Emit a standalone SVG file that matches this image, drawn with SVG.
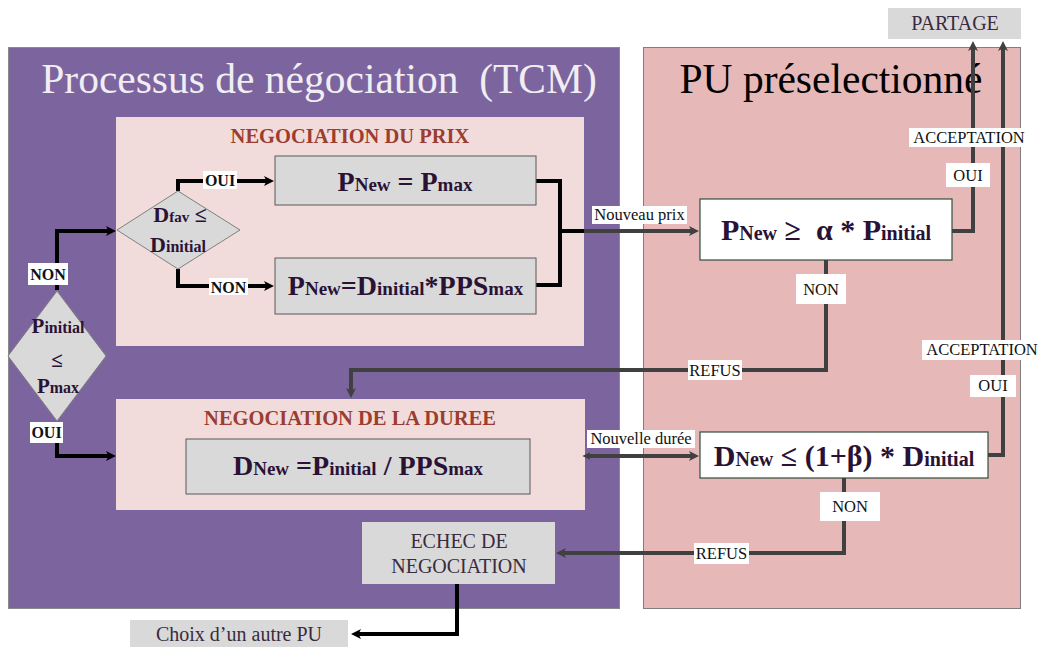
<svg xmlns="http://www.w3.org/2000/svg" width="1044" height="647" viewBox="0 0 1044 647">
<defs>
<style>
.serif{font-family:"Liberation Serif","Times New Roman",serif}
.f{font-family:"Liberation Serif","Times New Roman",serif;font-weight:bold;fill:#2B1235;text-anchor:middle}
.big{font-size:28px}.sm{font-size:19px}
.big2{font-size:30px}.sm2{font-size:20px}
.sec{font-family:"Liberation Serif","Times New Roman",serif;font-weight:bold;font-size:20.5px;fill:#9B3D30;text-anchor:middle}
.lb{font-family:"Liberation Serif","Times New Roman",serif;font-size:16.5px;fill:#111;text-anchor:middle}
.lbb{font-family:"Liberation Serif","Times New Roman",serif;font-size:16px;font-weight:bold;fill:#111;text-anchor:middle}
.lbbg{fill:#fff}
.gbox{fill:#D9D9D9;stroke:#595959;stroke-width:1}
.wbox{fill:#fff;stroke:#2F4F3A;stroke-width:1.2}
.dia{fill:#D9D9D9;stroke:#808080;stroke-width:1}
.cb{fill:none;stroke:#000;stroke-width:4}
.cg{fill:none;stroke:#404040;stroke-width:4}
.plain{font-family:"Liberation Serif","Times New Roman",serif;font-size:20px;fill:#3A2B3F;text-anchor:middle}
</style>
<marker id="ab" viewBox="0 0 10 10" refX="3" refY="5" markerWidth="11" markerHeight="10" markerUnits="userSpaceOnUse" orient="auto">
<path d="M0,0 L10,5 L0,10 L2.5,5 z" fill="#000"/>
</marker>
<marker id="ag" viewBox="0 0 10 10" refX="3" refY="5" markerWidth="11" markerHeight="10" markerUnits="userSpaceOnUse" orient="auto">
<path d="M0,0 L10,5 L0,10 L2.5,5 z" fill="#404040"/>
</marker>
<marker id="ags" viewBox="0 0 10 10" refX="3" refY="5" markerWidth="8" markerHeight="8" markerUnits="userSpaceOnUse" orient="auto-start-reverse">
<path d="M0,0 L10,5 L0,10 L2.5,5 z" fill="#404040"/>
</marker>
</defs>

<g id="panel-tcm">
<rect x="8.5" y="47.5" width="611" height="561" fill="#7C649F" stroke="#8A8A8A"/>
<text class="serif" x="319" y="93" font-size="41.5" fill="#F0EEF2" text-anchor="middle">Processus de négociation&#160; (TCM)</text>
</g>
<g id="panel-pu">
<rect x="643.5" y="47.5" width="377" height="561" fill="#E6B9B8" stroke="#7F7F7F"/>
<text class="serif" x="831" y="93" font-size="41.5" fill="#000" text-anchor="middle">PU préselectionné</text>
</g>
<g id="partage">
<rect x="888" y="8" width="133" height="31" fill="#D9D9D9"/>
<text class="plain" x="955" y="30" fill="#333">PARTAGE</text>
</g>
<g id="negociation-prix">
<rect x="116" y="117" width="468" height="229" fill="#F2DCDB"/>
<text class="sec" x="350" y="143">NEGOCIATION DU PRIX</text>
</g>
<g id="negociation-duree">
<rect x="116" y="399" width="469" height="111" fill="#F2DCDB"/>
<text class="sec" x="350" y="425">NEGOCIATION DE LA DUREE</text>
</g>

<g id="connectors">
<path class="cb" d="M57,290 V231 H109" marker-end="url(#ab)"/>
<path class="cb" d="M57,422 V456 H109" marker-end="url(#ab)"/>
<path class="cb" d="M178,191 V181 H267" marker-end="url(#ab)"/>
<path class="cb" d="M178,269 V286 H267" marker-end="url(#ab)"/>
<path class="cb" d="M536,181 H560 V285 H536"/>
<path class="cb" d="M560,231 H586"/>
<path class="cg" d="M584,231 H692" marker-end="url(#ag)"/>
<path class="cg" d="M952,231 H973 V48" marker-end="url(#ag)"/>
<path class="cg" d="M826,260 V370 H351 V391" marker-end="url(#ag)"/>
<path class="cg" d="M588,456 H692" marker-start="url(#ags)" marker-end="url(#ag)"/>
<path class="cg" d="M988,455 H1003 V48" marker-end="url(#ag)"/>
<path class="cg" d="M844,478 V553 H563" marker-end="url(#ag)"/>
<path class="cb" d="M457,584 V634 H358" marker-end="url(#ab)"/>

<rect class="lbbg" x="28" y="263" width="40" height="22"/>
<text class="lbb" x="48" y="280">NON</text>
<rect class="lbbg" x="30" y="422" width="33" height="21"/>
<text class="lbb" x="46.5" y="438">OUI</text>
<rect class="lbbg" x="203" y="171" width="34" height="18"/>
<text class="lbb" x="220" y="186">OUI</text>
<rect class="lbbg" x="209" y="278" width="39" height="17"/>
<text class="lbb" x="228.5" y="293">NON</text>
<rect class="lbbg" x="592" y="206" width="95" height="18"/>
<text class="lb" x="639.5" y="220" font-size="17">Nouveau prix</text>
<rect class="lbbg" x="909" y="128" width="120" height="19"/>
<text class="lb" x="969" y="143">ACCEPTATION</text>
<rect class="lbbg" x="946" y="163" width="44" height="24"/>
<text class="lb" x="968" y="181">OUI</text>
<rect class="lbbg" x="796" y="274" width="50" height="30"/>
<text class="lb" x="821" y="295">NON</text>
<rect class="lbbg" x="688" y="360" width="54" height="20"/>
<text class="lb" x="715" y="376">REFUS</text>
<rect class="lbbg" x="587" y="430" width="108" height="18"/>
<text class="lb" x="641" y="444" font-size="17">Nouvelle durée</text>
<rect class="lbbg" x="922" y="340" width="120" height="20"/>
<text class="lb" x="982" y="355">ACCEPTATION</text>
<rect class="lbbg" x="970" y="375" width="46" height="22"/>
<text class="lb" x="993" y="391">OUI</text>
<rect class="lbbg" x="820" y="492" width="60" height="29"/>
<text class="lb" x="850" y="512">NON</text>
<rect class="lbbg" x="694" y="543" width="55" height="21"/>
<text class="lb" x="721.5" y="559">REFUS</text>
</g>

<g id="dec-pinitial">
<polygon class="dia" points="57,291 106,356 57,421 8,356"/>
<text class="f" x="58" y="333"><tspan font-size="21">P</tspan><tspan font-size="16">initial</tspan></text>
<text class="f" x="57" y="367" font-size="21">≤</text>
<text class="f" x="58" y="393"><tspan font-size="21">P</tspan><tspan font-size="16">max</tspan></text>
</g>
<g id="dec-dfav">
<polygon class="dia" points="178,191 240,230 178,269 117,230"/>
<text class="f" x="180" y="222"><tspan font-size="22">D</tspan><tspan font-size="15">fav</tspan><tspan font-size="22"> ≤</tspan></text>
<text class="f" x="178" y="252"><tspan font-size="22">D</tspan><tspan font-size="16">initial</tspan></text>
</g>
<g id="pnew-pmax">
<rect class="gbox" x="275" y="156" width="261" height="49"/>
<text class="f" x="405" y="191"><tspan class="big">P</tspan><tspan class="sm">New</tspan><tspan class="big"> = P</tspan><tspan class="sm">max</tspan></text>
</g>
<g id="pnew-dinitial">
<rect class="gbox" x="275" y="258" width="261" height="56"/>
<text class="f" x="405.5" y="295"><tspan class="big">P</tspan><tspan class="sm">New</tspan><tspan class="big">=D</tspan><tspan class="sm">initial</tspan><tspan class="big">*PPS</tspan><tspan class="sm">max</tspan></text>
</g>
<g id="dnew-calc">
<rect class="gbox" x="186" y="439" width="344" height="55"/>
<text class="f" x="358" y="475"><tspan class="big">D</tspan><tspan class="sm">New</tspan><tspan class="big"> =P</tspan><tspan class="sm">initial</tspan><tspan class="big"> / PPS</tspan><tspan class="sm">max</tspan></text>
</g>
<g id="test-prix">
<rect class="wbox" x="700" y="199" width="252" height="61"/>
<text class="f" x="826" y="240"><tspan class="big2">P</tspan><tspan class="sm2">New</tspan><tspan class="big2"> ≥ &#160;α * P</tspan><tspan class="sm2">initial</tspan></text>
</g>
<g id="test-duree">
<rect class="wbox" x="700" y="432" width="288" height="46"/>
<text class="f" x="844" y="466"><tspan class="big2">D</tspan><tspan class="sm2">New</tspan><tspan class="big2"> ≤ (1+β) * D</tspan><tspan class="sm2">initial</tspan></text>
</g>
<g id="echec">
<rect x="362" y="522" width="193" height="62" fill="#D9D9D9"/>
<text class="plain" x="459" y="548">ECHEC DE</text>
<text class="plain" x="459" y="573">NEGOCIATION</text>
</g>
<g id="choix">
<rect x="130" y="620" width="218" height="27" fill="#D9D9D9"/>
<text class="plain" x="239" y="641">Choix d’un autre PU</text>
</g>
</svg>
